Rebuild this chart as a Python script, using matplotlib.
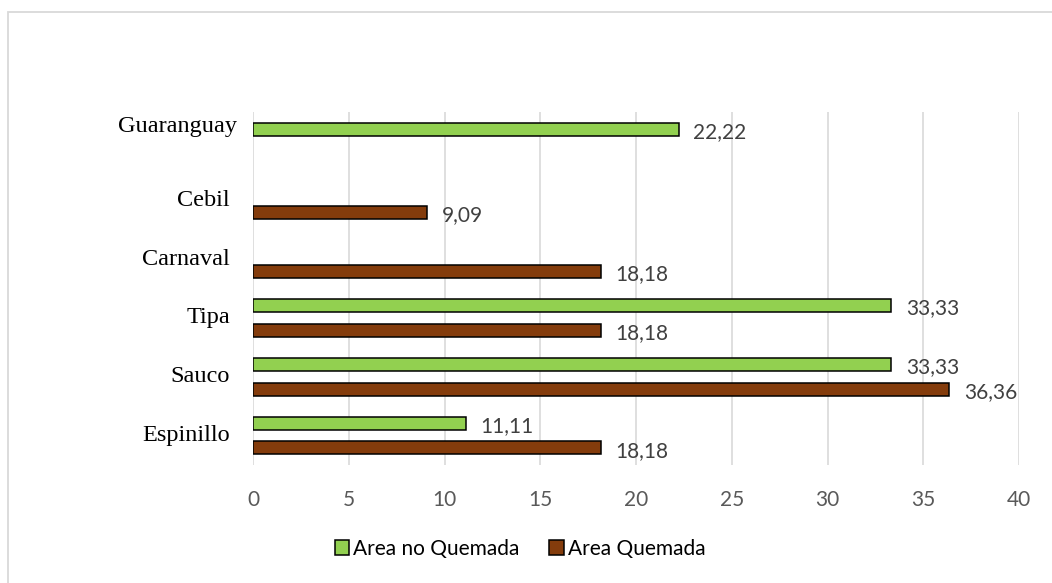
import numpy as np
import matplotlib
matplotlib.use('Agg')
import matplotlib.pyplot as plt
from matplotlib.patches import Rectangle, Patch
from matplotlib.transforms import blended_transform_factory

# species, bottom to top
especies = ['Espinillo', 'Sauco', 'Tipa', 'Carnaval', 'Cebil', 'Guaranguay']
no_quemada = [11.11, 33.33, 33.33, np.nan, np.nan, 22.22]
quemada = [18.18, 36.36, 18.18, 18.18, 9.09, np.nan]
xticks = [0, 5, 10, 15, 20, 25, 30, 35, 40]

verde = '#92D050'
cafe = '#843C0C'
gris_txt = '#404040'

fig = plt.figure(figsize=(10.52, 5.83), dpi=100)
ax = fig.add_axes([253/1052, 1-465/583, 766/1052, 353/583])

# outer chart frame
fig.patches.append(Rectangle((8/1052, -0.1), 1.2, 1.1 - 12/583, transform=fig.transFigure,
                             fill=False, edgecolor='#D9D9D9', lw=1.3, zorder=0))

y = np.arange(len(especies))
h = 0.22
off = 0.21

def barras(vals, dy, color):
    for yi, v in zip(y, vals):
        if np.isnan(v):
            continue
        ax.barh(yi + dy, v, height=h, color=color, edgecolor='black', lw=1.1, zorder=3)
        ax.annotate(f'{v:.2f}'.replace('.', ','), (v, yi + dy), xytext=(10.5, -2),
                    textcoords='offset points', va='center', ha='left',
                    fontsize=15, color=gris_txt, family='Lato')

barras(no_quemada, off, verde)
barras(quemada, -off, cafe)

ax.set_xlim(0, 40)
ax.set_ylim(-0.5, len(especies) - 0.5)
ax.set_xticks(xticks)
ax.set_xticklabels([str(t) for t in xticks], fontsize=15, color='#595959', family='Lato')
ax.tick_params(axis='x', length=0, pad=18)
ax.set_yticks([])
ax.grid(axis='x', color='#D9D9D9', lw=1.2, zorder=0)
for s in ax.spines.values():
    s.set_visible(False)

# species names, right-aligned left of the axis (top one sits by its single bar)
tr = blended_transform_factory(fig.transFigure, ax.transData)
for yi, nombre in zip(y, especies):
    if nombre == 'Guaranguay':
        xx, yy = 237/1052, yi + off + 0.05
    else:
        xx, yy = 230/1052, yi
    ax.text(xx, yy, nombre, transform=tr, ha='right', va='center',
            fontsize=17.5, family='Liberation Serif', color='black')

handles = [Patch(facecolor=verde, edgecolor='black', lw=1.1, label='Area no Quemada'),
           Patch(facecolor=cafe, edgecolor='black', lw=1.1, label='Area Quemada')]
fig.legend(handles=handles, loc='center', bbox_to_anchor=(520/1052, 1-549/583), ncol=2,
           frameon=False, prop={'family': 'Lato', 'size': 15}, handlelength=0.7,
           handleheight=0.7, handletextpad=0.2, columnspacing=1.4, labelcolor='black')

fig.savefig('out.png', dpi=100)
